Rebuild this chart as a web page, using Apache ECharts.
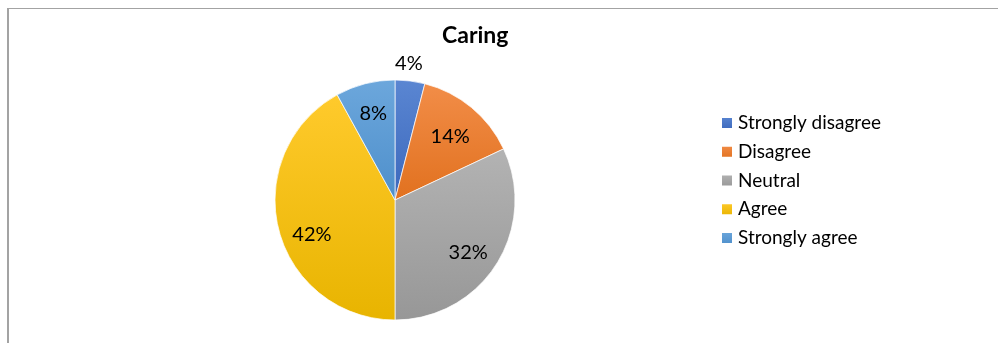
<!DOCTYPE html>
<html>
<head>
<meta charset="utf-8">
<script src="https://cdn.jsdelivr.net/npm/echarts@6/dist/echarts.min.js"></script>
<style>
  html, body { margin: 0; padding: 0; background: #fff; }
  #chart { width: 998px; height: 343px; }
</style>
</head>
<body>
<div id="chart"></div>
<script>
const categories = ['Strongly disagree', 'Disagree', 'Neutral', 'Agree', 'Strongly agree'];
const values = [4, 14, 32, 42, 8];
// light (top) and dark (bottom) tones of each slice's vertical gradient
const topColors = ['#5a86d2', '#f28d48', '#b3b3b3', '#ffca2c', '#6ca7dc'];
const bottomColors = ['#3c68bc', '#e1711f', '#979797', '#e8b400', '#4e8fcb'];
// nudges that move each percentage from the default inside spot
const labelOffsets = [[6, -74], [15, -15], [20, 19], [-22, 19], [-6, -25]];

const FONT = 'Lato, "Open Sans", sans-serif';

function grad(i) {
  return new echarts.graphic.LinearGradient(0, 0, 0, 1, [
    { offset: 0, color: topColors[i] },
    { offset: 1, color: bottomColors[i] }
  ]);
}

const chart = echarts.init(document.getElementById('chart'), null, { renderer: 'canvas' });

chart.setOption({
  animation: false,
  backgroundColor: '#fff',
  title: {
    text: 'Caring',
    left: 437,
    top: 19,
    textStyle: { fontFamily: FONT, fontSize: 23, fontWeight: 'bold', color: '#000' }
  },
  legend: {
    orient: 'vertical',
    left: 715,
    top: 108,
    itemWidth: 12,
    itemHeight: 12,
    itemGap: 8.75,
    icon: 'rect',
    textStyle: { fontFamily: FONT, fontSize: 19, color: '#000', lineHeight: 20 },
    data: categories
  },
  graphic: [
    { type: 'line', shape: { x1: 8, y1: 8.5, x2: 998, y2: 8.5 }, style: { stroke: '#a3a3a3', lineWidth: 1 } },
    { type: 'line', shape: { x1: 8, y1: 8, x2: 8, y2: 343 }, style: { stroke: '#a3a3a3', lineWidth: 2 } }
  ],
  series: [{
    type: 'pie',
    center: [395, 200],
    radius: [0, 120],
    startAngle: 90,
    clockwise: true,
    avoidLabelOverlap: false,
    itemStyle: { borderColor: '#fff', borderWidth: 0.7 },
    label: {
      position: 'inside',
      formatter: '{c}%',
      fontFamily: FONT,
      fontSize: 20,
      color: '#000'
    },
    labelLine: { show: false },
    emphasis: { disabled: true },
    data: categories.map((name, i) => ({
      name: name,
      value: values[i],
      itemStyle: { color: grad(i) },
      label: { offset: labelOffsets[i] }
    }))
  }]
});
</script>
</body>
</html>
